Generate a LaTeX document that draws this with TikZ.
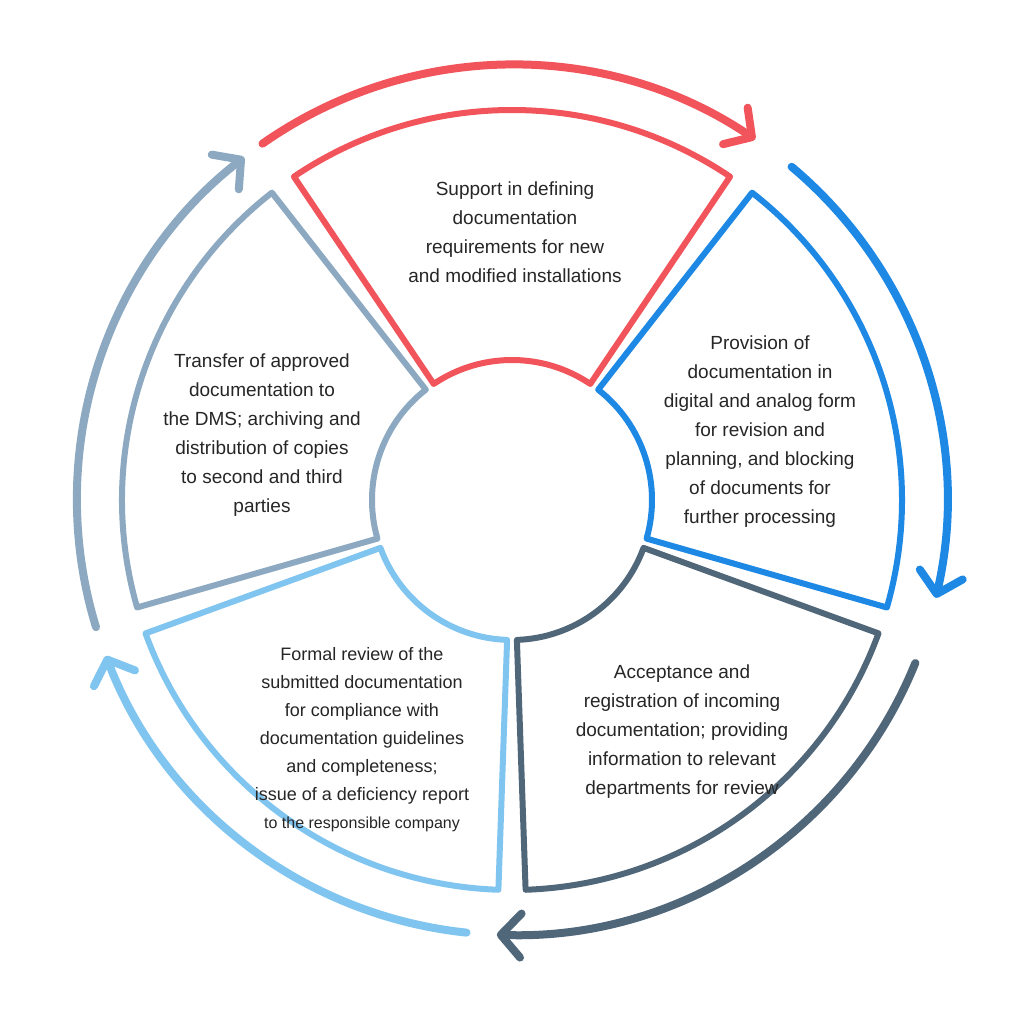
\documentclass[tikz,border=0pt]{standalone}
\usepackage{fontspec}
\setmainfont{Liberation Sans}
\usetikzlibrary{arrows.meta}
\definecolor{cred}{HTML}{F2545B}
\definecolor{cblue}{HTML}{1E88E5}
\definecolor{cdark}{HTML}{506679}
\definecolor{clight}{HTML}{80C4F0}
\definecolor{cgray}{HTML}{8CA9C1}
\begin{document}
\begin{tikzpicture}[x=1pt,y=1pt,
  seg/.style={draw=#1,line width=6pt,line join=round,fill=white},
  arr/.style={draw=#1,line width=8pt,line cap=round,-{Straight Barb[length=20pt,width=44pt,line width=8pt,round]}},
  txt/.style={align=center,font=\fontsize{19}{29}\selectfont,text=black!85}]
\useasboundingbox (-512,-530) rectangle (518,500);
\def\ri{140}\def\ro{390}\def\ra{435}
\path[seg=cred] (56:\ri) arc (56:124:\ri) -- (124:\ro) arc (124:56:\ro) -- cycle;
\path[seg=cblue] (-16:\ri) arc (-16:52:\ri) -- (52:\ro) arc (52:-16:\ro) -- cycle;
\path[seg=cdark] (-88:\ri) arc (-88:-20:\ri) -- (-20:\ro) arc (-20:-88:\ro) -- cycle;
\path[seg=clight] (-160:\ri) arc (-160:-92:\ri) -- (-92:\ro) arc (-92:-160:\ro) -- cycle;
\path[seg=cgray] (128:\ri) arc (128:196:\ri) -- (196:\ro) arc (196:128:\ro) -- cycle;
\coordinate (r1) at (125:\ra); \coordinate (b1) at (50:\ra);
\coordinate (d1) at (-22:\ra); \coordinate (l1) at (-96:\ra);
\coordinate (g1) at (197:\ra);
\path[arr=cred] (r1) arc (125:56:\ra);
\path[arr=cblue] (b1) arc (50:-13:\ra);
\path[arr=cdark] (d1) arc (-22:-92:\ra);
\path[arr=clight] (l1) arc (-96:-159:\ra);
\path[arr=cgray] (g1) arc (197:128:\ra);
\node[txt] (tr) at (3,268) {Support in defining\\documentation\\requirements for new\\and modified installations};
\node[txt] (tb) at (248,68) {Provision of\\documentation in\\digital and analog form\\for revision and\\planning, and blocking\\of documents for\\further processing};
\node[txt] (td) at (170,-232) {Acceptance and\\registration of incoming\\documentation; providing\\information to relevant\\departments for review};
\node[txt,font=\fontsize{18}{28}\selectfont] (tl) at (-150,-240) {Formal review of the\\submitted documentation\\for compliance with\\documentation guidelines\\and completeness;\\issue of a deficiency report\\{\fontsize{16}{26}\selectfont to the responsible company}};
\node[txt] (tg) at (-250,65) {Transfer of approved\\documentation to\\the DMS; archiving and\\distribution of copies\\to second and third\\parties};
\end{tikzpicture}
\end{document}
